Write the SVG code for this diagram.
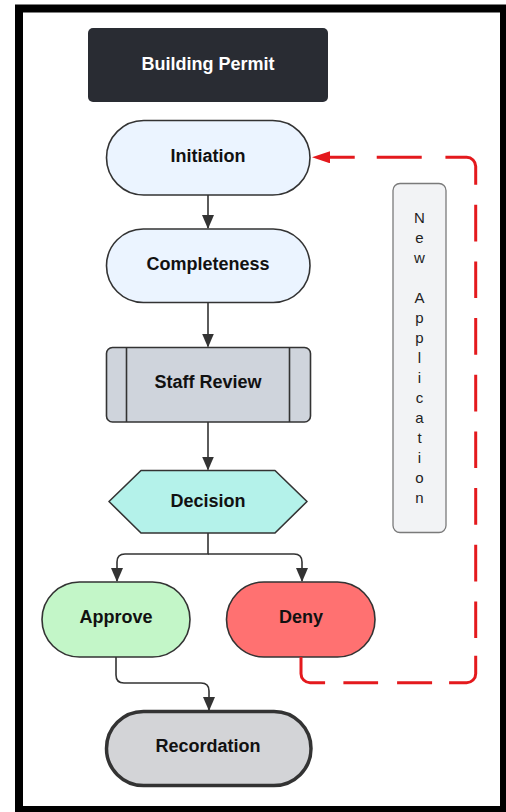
<svg xmlns="http://www.w3.org/2000/svg" width="506" height="812" viewBox="0 0 506 812">
<defs>
<marker id="arr" markerUnits="userSpaceOnUse" markerWidth="14" markerHeight="12" refX="13" refY="6" orient="auto"><path d="M0,0 L14,6 L0,12 z" fill="#333"/></marker>
<marker id="arrRed" markerUnits="userSpaceOnUse" markerWidth="18" markerHeight="12" refX="0" refY="6" orient="auto"><path d="M0,0 L18,6 L0,12 z" fill="#e4191d"/></marker>
</defs>
<style>
.n{stroke:#333;stroke-width:1.6;stroke-linejoin:round}
.t{font-family:"Liberation Sans",Arial,sans-serif;font-weight:bold;font-size:18px;fill:#111;text-anchor:middle}
.c{fill:none;stroke:#333;stroke-width:1.6}
.v{font-family:"Liberation Sans",Arial,sans-serif;font-size:15px;fill:#222;text-anchor:middle}
</style>
<rect x="0" y="0" width="506" height="812" fill="#fff"/>
<rect x="19" y="8.5" width="485" height="801.5" fill="#fff" stroke="#000" stroke-width="8"/>

<g id="title">
<rect x="88" y="28" width="240" height="74" rx="5" fill="#292c33"/>
<text class="t" x="208" y="69.5" style="fill:#fff">Building Permit</text>
</g>
<g id="initiation">
<rect class="n" x="106.5" y="120.5" width="203.5" height="74.5" rx="37.25" fill="#ebf4ff"/>
<text class="t" x="208" y="161.5">Initiation</text>
</g>
<g id="completeness">
<rect class="n" x="106.5" y="229" width="203.5" height="73.5" rx="36.75" fill="#ebf4ff"/>
<text class="t" x="208" y="270">Completeness</text>
</g>
<g id="staff-review">
<rect class="n" x="106.5" y="347.5" width="204" height="74.5" rx="6" fill="#cfd4dc"/>
<line class="n" x1="126.5" y1="347.5" x2="126.5" y2="422"/>
<line class="n" x1="289.5" y1="347.5" x2="289.5" y2="422"/>
<text class="t" x="208" y="388">Staff Review</text>
</g>
<g id="decision">
<polygon class="n" points="109,501.5 141,470.5 275,470.5 307,501.5 275,533 141,533" fill="#b4f2ea"/>
<text class="t" x="208" y="507">Decision</text>
</g>
<g id="approve">
<rect class="n" x="42" y="582" width="148" height="75" rx="37.5" fill="#c3f6c8"/>
<text class="t" x="116" y="623">Approve</text>
</g>
<g id="deny">
<rect class="n" x="226.5" y="582" width="148.5" height="75" rx="37.5" fill="#ff7171"/>
<text class="t" x="301" y="623">Deny</text>
</g>
<g id="recordation">
<rect x="106.5" y="711.5" width="204.5" height="74" rx="37" fill="#d3d4d7" stroke="#333" stroke-width="3.5"/>
<text class="t" x="208" y="751.5">Recordation</text>
</g>
<g id="new-application">
<rect x="393" y="183.5" width="53" height="349" rx="7" fill="#f2f3f5" stroke="#7a7a7a" stroke-width="1.3"/>
<text class="v" x="419.5" y="222.5">N</text>
<text class="v" x="419.5" y="242.5">e</text>
<text class="v" x="419.5" y="262.5">w</text>
<text class="v" x="419.5" y="302.5">A</text>
<text class="v" x="419.5" y="322.5">p</text>
<text class="v" x="419.5" y="342.5">p</text>
<text class="v" x="419.5" y="362.5">l</text>
<text class="v" x="419.5" y="382.5">i</text>
<text class="v" x="419.5" y="402.5">c</text>
<text class="v" x="419.5" y="422.5">a</text>
<text class="v" x="419.5" y="442.5">t</text>
<text class="v" x="419.5" y="462.5">i</text>
<text class="v" x="419.5" y="482.5">o</text>
<text class="v" x="419.5" y="502.5">n</text>
</g>

<g id="connectors">
<path class="c" d="M208,195 V228" marker-end="url(#arr)"/>
<path class="c" d="M208,302.5 V346.5" marker-end="url(#arr)"/>
<path class="c" d="M208,422 V469.5" marker-end="url(#arr)"/>
<path class="c" d="M208,533 V554 H125 Q117,554 117,562 V581" marker-end="url(#arr)"/>
<path class="c" d="M208,554 H294 Q302,554 302,562 V581" marker-end="url(#arr)"/>
<path class="c" d="M116,657 V675 Q116,683 124,683 H201 Q209,683 209,691 V710" marker-end="url(#arr)"/>
<path d="M301,657 V673.7 A9,9 0 0 0 310,682.7 H466.7 A9,9 0 0 0 475.7,673.7 V166.3 A9,9 0 0 0 466.7,157.3 H330" fill="none" stroke="#e4191d" stroke-width="3" stroke-dasharray="45.84 18.3 34.7 19 35 17 49.53 17.7 36.6 20 36.7 20 36.7 20 36.6 20 36.7 20 36.7 20 36.6 20 36.7 20 53.84 23.7 45 22 40 20" marker-end="url(#arrRed)"/>
</g>
</svg>
